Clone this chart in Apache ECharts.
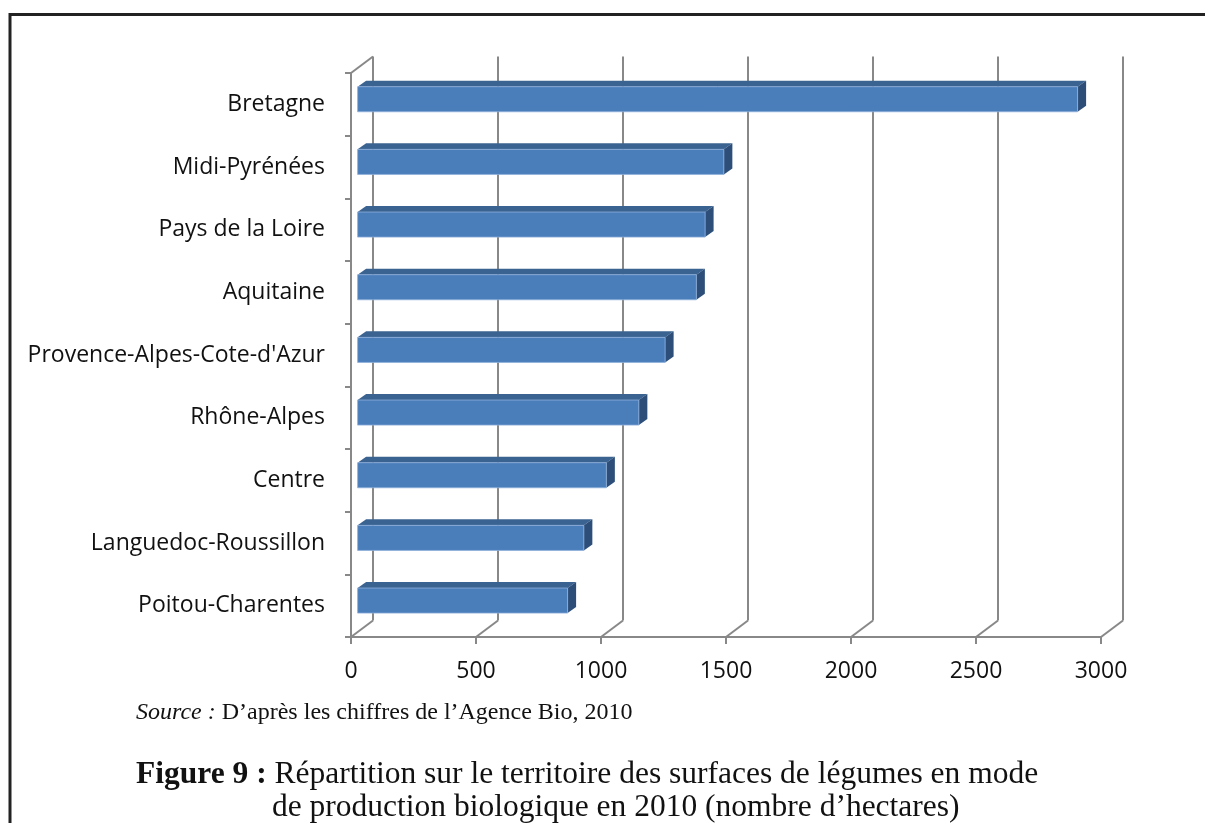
<!DOCTYPE html>
<html>
<head>
<meta charset="utf-8">
<title>Figure 9</title>
<script src="https://cdn.jsdelivr.net/npm/echarts@6/dist/echarts.min.js"></script>
<style>
  html, body { margin: 0; padding: 0; background: #fff; }
  #chart { width: 1205px; height: 823px; }
</style>
</head>
<body>
<div id="chart"></div>
<script>
// données (hectares de légumes bio, 2010)
const regions = ['Bretagne', 'Midi-Pyrénées', 'Pays de la Loire', 'Aquitaine',
  "Provence-Alpes-Cote-d'Azur", 'Rhône-Alpes', 'Centre', 'Languedoc-Roussillon', 'Poitou-Charentes'];
const hectares = [2880, 1465, 1390, 1355, 1230, 1125, 995, 905, 840];
const xTicks = [0, 500, 1000, 1500, 2000, 2500, 3000];

// mise en page "3D" (profondeur du plancher et des barres)
const DX = 22, DY = -16.5;      // profondeur totale du graphique
const OX = 6.6, OY = -5.1;      // face avant des barres
const BX = 8.5, BY = -6;        // épaisseur des barres
const GRID_LEFT = 351, GRID_TOP = 73, GRID_W = 750, GRID_H = 564;
const GREY = '#888888';

const chart = echarts.init(document.getElementById('chart'));

// barres en relief
const renderBar = (params, api) => {
  let idx = api.value(1);
  let p0 = api.coord([0, idx]);
  let p1 = api.coord([api.value(0), idx]);
  let h = api.size([0, 1])[1] * 0.4;
  let x0 = p0[0] + OX, x1 = p1[0] + OX;
  let y0 = p0[1] + OY - h / 2;
  return {
    type: 'group',
    children: [
      {
        type: 'polygon',
        shape: { points: [[x0, y0], [x1, y0], [x1 + BX, y0 + BY], [x0 + BX, y0 + BY]] },
        style: { fill: '#3a6391' }
      },
      {
        type: 'polygon',
        shape: { points: [[x1, y0], [x1 + BX, y0 + BY], [x1 + BX, y0 + h + BY], [x1, y0 + h]] },
        style: { fill: '#2c4e78' }
      },
      {
        type: 'rect',
        shape: { x: x0, y: y0, width: x1 - x0, height: h },
        style: { fill: '#4a7ebb', stroke: '#8fb0da', lineWidth: 0.8 }
      }
    ]
  };
};

// diagonales du plancher
const renderFloor = (params, api) => {
  let p = api.coord([api.value(0), regions.length - 1]);
  let yb = p[1] + api.size([0, 1])[1] / 2;
  return {
    type: 'line',
    shape: { x1: p[0], y1: yb, x2: p[0] + DX, y2: yb + DY },
    style: { stroke: GREY, lineWidth: 2 }
  };
};

// diagonale du haut de la paroi gauche
const renderWall = (params, api) => {
  let p = api.coord([0, 0]);
  let yt = p[1] - api.size([0, 1])[1] / 2;
  return {
    type: 'line',
    shape: { x1: p[0], y1: yt, x2: p[0] + DX, y2: yt + DY },
    style: { stroke: GREY, lineWidth: 2 }
  };
};

let option = {
  animation: false,
  backgroundColor: '#fff',
  grid: [
    { left: GRID_LEFT, top: GRID_TOP, width: GRID_W, height: GRID_H },
    { left: GRID_LEFT + DX, top: GRID_TOP + DY, width: GRID_W, height: GRID_H }
  ],
  xAxis: [
    {
      gridIndex: 0,
      type: 'value',
      min: xTicks[0],
      max: xTicks[xTicks.length - 1],
      interval: xTicks[1] - xTicks[0],
      axisLine: { show: true, lineStyle: { color: GREY, width: 2 } },
      axisTick: { show: true, length: 7, lineStyle: { color: GREY, width: 2 } },
      axisLabel: {
        color: '#111', fontSize: 23, fontFamily: 'Open Sans', margin: 23,
        formatter: v => String(v)
      },
      splitLine: { show: false }
    },
    {
      gridIndex: 1,
      type: 'value',
      min: xTicks[0],
      max: xTicks[xTicks.length - 1],
      interval: xTicks[1] - xTicks[0],
      axisLine: { show: false },
      axisTick: { show: false },
      axisLabel: { show: false },
      splitLine: { show: true, lineStyle: { color: GREY, width: 2 } }
    }
  ],
  yAxis: [
    {
      gridIndex: 0,
      type: 'category',
      inverse: true,
      data: regions,
      axisLine: { show: true, lineStyle: { color: GREY, width: 2 } },
      axisTick: { show: true, length: 6, lineStyle: { color: GREY, width: 2 } },
      axisLabel: {
        color: '#111', fontSize: 23, fontFamily: 'Open Sans', margin: 26,
        padding: [4, 0, 0, 0]
      }
    },
    {
      gridIndex: 1,
      type: 'category',
      inverse: true,
      data: regions,
      show: false
    }
  ],
  series: [
    {
      type: 'custom',
      xAxisIndex: 0,
      yAxisIndex: 0,
      renderItem: renderFloor,
      data: xTicks.map(v => [v, regions.length - 1]),
      z: 1
    },
    {
      type: 'custom',
      xAxisIndex: 0,
      yAxisIndex: 0,
      renderItem: renderWall,
      data: [[0, 0]],
      z: 1
    },
    {
      type: 'custom',
      xAxisIndex: 0,
      yAxisIndex: 0,
      renderItem: renderBar,
      encode: { x: 0, y: 1 },
      data: hectares.map((v, i) => [v, i]),
      z: 3
    }
  ],
  graphic: [
    {
      type: 'rect',
      shape: { x: 10, y: 14.5, width: 1300, height: 900 },
      style: { fill: 'none', stroke: '#222', lineWidth: 3 }
    },
    {
      type: 'text',
      left: 136,
      top: 701,
      style: {
        text: '{i|Source :} D\u2019après les chiffres de l\u2019Agence Bio, 2010',
        font: '24px "Liberation Serif"',
        fill: '#111',
        rich: {
          i: { fontStyle: 'italic', fontSize: 24, fontFamily: 'Liberation Serif', fill: '#111' }
        }
      }
    },
    {
      type: 'text',
      left: 136,
      top: 759,
      style: {
        text: '{b|Figure 9 :} Répartition sur le territoire des surfaces de légumes en mode',
        font: '31.5px "Liberation Serif"',
        fill: '#111',
        rich: {
          b: { fontWeight: 'bold', fontSize: 31.5, fontFamily: 'Liberation Serif', fill: '#111' }
        }
      }
    },
    {
      type: 'text',
      left: 272,
      top: 792,
      style: {
        text: 'de production biologique en 2010 (nombre d\u2019hectares)',
        font: '31.5px "Liberation Serif"',
        fill: '#111'
      }
    }
  ]
};

chart.setOption(option);
</script>
</body>
</html>
